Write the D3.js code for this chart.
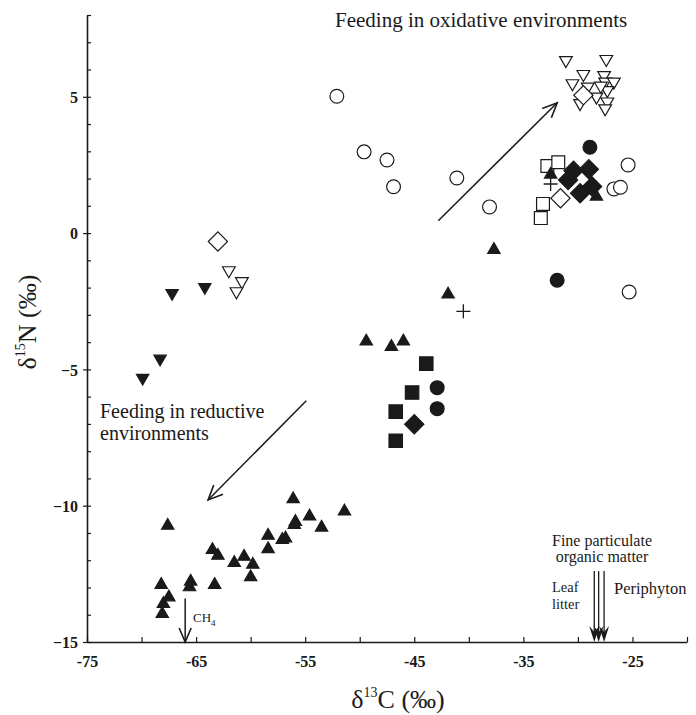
<!DOCTYPE html>
<html>
<head>
<meta charset="utf-8">
<script src="https://cdn.jsdelivr.net/npm/d3@7"></script>
<style>
  body { margin: 0; background: #fff; }
  text { font-family: "Liberation Serif", "Times New Roman", serif; fill: #1a1a1a; }
</style>
</head>
<body>
<div id="chart"></div>
<script>
// symbol series, [d13C, d15N]
var openCircle = [[-52.1, 5.02], [-49.6, 2.98], [-47.5, 2.68], [-46.9, 1.70], [-41.1, 2.02],
                  [-38.1, 0.96], [-25.4, 2.50], [-26.7, 1.62], [-26.1, 1.68], [-25.3, -2.16]];
var filledCircle = [[-28.9, 3.15], [-31.9, -1.73], [-42.9, -5.67], [-42.9, -6.44]];
var openSquare = [[-32.8, 2.46], [-31.8, 2.60], [-33.2, 1.07], [-33.4, 0.55]];
var filledSquare = [[-43.9, -4.79], [-45.2, -5.85], [-46.7, -6.55], [-46.7, -7.62]];
var openDiamond = [[-63.0, -0.31], [-29.5, 5.06], [-31.6, 1.28]];
var filledDiamond = [[-30.4, 2.29], [-29.0, 2.34], [-30.9, 1.95], [-29.8, 1.46], [-28.7, 1.71], [-45.0, -7.01]];
var filledTriangle = [[-32.5, 2.15], [-28.3, 1.34], [-37.7, -0.61], [-41.9, -2.25],
                      [-49.4, -3.97], [-47.1, -4.17], [-46.0, -3.97],
                      [-67.6, -10.73], [-68.2, -12.90], [-67.5, -13.36], [-68.0, -13.60], [-68.1, -13.97],
                      [-65.5, -12.78], [-65.6, -12.99], [-63.3, -12.90], [-63.5, -11.62], [-63.0, -11.83],
                      [-61.5, -12.10], [-60.6, -11.87], [-59.8, -12.16], [-60.0, -12.62],
                      [-58.4, -11.10], [-58.4, -11.59], [-57.1, -11.25], [-56.8, -11.20],
                      [-56.1, -9.76], [-55.9, -10.59], [-56.0, -10.70], [-54.6, -10.39], [-53.5, -10.80], [-51.4, -10.21]];
var filledTriangleDown = [[-67.2, -2.20], [-64.2, -1.98], [-68.3, -4.61], [-69.9, -5.31]];
var openTriangleDown = [[-62.0, -1.37], [-60.8, -1.77], [-61.3, -2.14],
                        [-31.1, 6.34], [-27.4, 6.38], [-29.5, 5.83], [-30.5, 5.49], [-29.1, 5.37],
                        [-27.6, 5.79], [-27.5, 5.55], [-26.7, 5.55], [-28.3, 5.00], [-27.3, 5.24],
                        [-29.8, 4.76], [-27.3, 4.82], [-27.5, 4.57], [-27.9, 5.40]];
var plusMark = [[-40.5, -2.87], [-32.5, 1.80]];

// axis ticks
var xTicks = [-75, -70, -65, -60, -55, -50, -45, -40, -35, -30, -25, -20];
var xLabels = [-75, -65, -55, -45, -35, -25];
var yTicks = d3.range(-15, 9, 1);
var yLabels = [5, 0, -5, -10, -15];

// annotation arrows [x1, y1, x2, y2]
var oxidArrow = [-42.8, 0.45, -31.9, 4.78];
var reducArrow = [-54.9, -6.15, -63.9, -9.79];
var ch4Arrow = [-66.0, -13.4, -66.0, -15];
var sourceArrows = [[-28.5, -12.4, -28.5, -15], [-28.1, -12.4, -28.1, -15], [-27.6, -12.4, -27.6, -15]];

var svgWidth = 696;
var svgHeight = 715;
var margin = { top: 15, right: 9, bottom: 73, left: 87 };
var width = svgWidth - margin.left - margin.right;
var height = svgHeight - margin.top - margin.bottom;

var svg = d3.select("#chart").append("svg")
            .attr("width", svgWidth)
            .attr("height", svgHeight);

var g = svg.append("g")
           .attr("transform", `translate(${margin.left}, ${margin.top})`);

var x = d3.scaleLinear().domain([-75, -20]).range([0, width]);
var y = d3.scaleLinear().domain([-15, 8]).range([height, 0]);

function styleTicks(sel) {
    sel.attr("font-family", null).attr("font-size", null);
    sel.selectAll(".tick text")
       .style("font-family", "'Liberation Serif', serif")
       .style("font-weight", "bold")
       .style("font-size", "16px")
       .attr("fill", "#1a1a1a");
    sel.select(".domain").attr("stroke-width", 1.6).attr("stroke", "#1a1a1a");
    sel.selectAll(".tick line").attr("stroke-width", 1.2).attr("stroke", "#1a1a1a");
}

// x axis
var xAxis = g.append("g")
             .attr("transform", `translate(0, ${height})`)
             .call(d3.axisBottom(x)
                     .tickValues(xTicks)
                     .tickSizeInner(-5)
                     .tickSizeOuter(0)
                     .tickPadding(14)
                     .tickFormat(d => xLabels.indexOf(d) >= 0 ? d : ""));
styleTicks(xAxis);

// y axis: minor ticks inward
var yAxis = g.append("g")
             .call(d3.axisLeft(y)
                     .tickValues(yTicks)
                     .tickSizeInner(-4)
                     .tickSizeOuter(0)
                     .tickFormat(""));
styleTicks(yAxis);

// y axis: labelled ticks outward
var yMajor = g.append("g")
              .call(d3.axisLeft(y)
                      .tickValues(yLabels)
                      .tickSizeInner(4)
                      .tickSizeOuter(0)
                      .tickPadding(5));
styleTicks(yMajor);
yMajor.select(".domain").remove();
yMajor.selectAll(".tick text").attr("dy", "0.36em");

// points
function drawSymbols(data, type, size, fill, rotate) {
    g.selectAll(null)
     .data(data)
     .enter()
     .append("path")
     .attr("d", d3.symbol().type(type).size(size))
     .attr("transform", d => `translate(${x(d[0])}, ${y(d[1])}) rotate(${rotate})`)
     .attr("fill", fill ? "#1a1a1a" : "#fff")
     .attr("stroke", "#1a1a1a")
     .attr("stroke-width", 1.2);
}

drawSymbols(openCircle, d3.symbolCircle, 150, false, 0);
drawSymbols(openSquare, d3.symbolSquare, 165, false, 0);
drawSymbols(openTriangleDown, d3.symbolTriangle, 70, false, 180);
drawSymbols(openDiamond, d3.symbolSquare, 185, false, 45);
drawSymbols(filledCircle, d3.symbolCircle, 150, true, 0);
drawSymbols(filledSquare, d3.symbolSquare, 180, true, 0);
drawSymbols(filledDiamond, d3.symbolSquare, 185, true, 45);
drawSymbols(filledTriangle, d3.symbolTriangle, 66, true, 0);
drawSymbols(filledTriangleDown, d3.symbolTriangle, 66, true, 180);

g.selectAll(null)
 .data(plusMark)
 .enter()
 .append("path")
 .attr("d", "M-7,0H7M0,-7V7")
 .attr("transform", d => `translate(${x(d[0])}, ${y(d[1])})`)
 .attr("stroke", "#1a1a1a")
 .attr("stroke-width", 1.3)
 .attr("fill", "none");

// open-headed arrows
function openArrow(a) {
    var x1 = x(a[0]), y1 = y(a[1]), x2 = x(a[2]), y2 = y(a[3]);
    var ang = Math.atan2(y2 - y1, x2 - x1);
    var L = 16, w = 0.42;
    g.append("line")
     .attr("x1", x1).attr("y1", y1).attr("x2", x2).attr("y2", y2)
     .attr("stroke", "#1a1a1a").attr("stroke-width", 1.5);
    g.append("path")
     .attr("d", `M${x2 - L * Math.cos(ang - w)},${y2 - L * Math.sin(ang - w)}L${x2},${y2}L${x2 - L * Math.cos(ang + w)},${y2 - L * Math.sin(ang + w)}`)
     .attr("stroke", "#1a1a1a").attr("stroke-width", 1.6).attr("fill", "none");
}
openArrow(oxidArrow);
openArrow(reducArrow);

// CH4 arrow
g.append("line")
 .attr("x1", x(ch4Arrow[0])).attr("y1", y(ch4Arrow[1]))
 .attr("x2", x(ch4Arrow[2])).attr("y2", y(ch4Arrow[3]))
 .attr("stroke", "#1a1a1a").attr("stroke-width", 1.5);
g.append("path")
 .attr("d", `M${x(ch4Arrow[2]) - 6},${y(ch4Arrow[3]) - 14}L${x(ch4Arrow[2])},${y(ch4Arrow[3])}L${x(ch4Arrow[2]) + 6},${y(ch4Arrow[3]) - 14}`)
 .attr("stroke", "#1a1a1a").attr("stroke-width", 1.6).attr("fill", "none");

// source arrows (leaf litter, FPOM, periphyton)
sourceArrows.forEach(function(a) {
    g.append("line")
     .attr("x1", x(a[0])).attr("y1", y(a[1]))
     .attr("x2", x(a[2])).attr("y2", y(a[3]) - 6)
     .attr("stroke", "#1a1a1a").attr("stroke-width", 1.3);
    g.append("path")
     .attr("d", `M${x(a[2]) - 5},${y(a[3]) - 16}L${x(a[2])},${y(a[3])}L${x(a[2]) + 5},${y(a[3]) - 16}L${x(a[2])},${y(a[3]) - 10}Z`)
     .attr("fill", "#1a1a1a");
});

// annotation text
svg.append("text").attr("x", 335).attr("y", 27).style("font-size", "21px")
   .text("Feeding in oxidative environments");
svg.append("text").attr("x", 100).attr("y", 418).style("font-size", "20px")
   .text("Feeding in reductive");
svg.append("text").attr("x", 100).attr("y", 440).style("font-size", "20px")
   .text("environments");

var ch4 = svg.append("text").attr("x", 193).attr("y", 622).style("font-size", "13px");
ch4.append("tspan").text("CH");
ch4.append("tspan").attr("dy", 4).style("font-size", "9px").text("4");

svg.append("text").attr("x", 602).attr("y", 546).attr("text-anchor", "middle").style("font-size", "16px")
   .text("Fine particulate");
svg.append("text").attr("x", 602).attr("y", 562).attr("text-anchor", "middle").style("font-size", "16px")
   .text("organic matter");
svg.append("text").attr("x", 552).attr("y", 592).style("font-size", "14.5px").text("Leaf");
svg.append("text").attr("x", 552).attr("y", 609).style("font-size", "14.5px").text("litter");
svg.append("text").attr("x", 614).attr("y", 594).style("font-size", "16.5px").text("Periphyton");

// axis titles
var xt = svg.append("text").attr("x", 398).attr("y", 708).attr("text-anchor", "middle").style("font-size", "26px");
xt.append("tspan").text("δ");
xt.append("tspan").attr("dy", -11).style("font-size", "14px").text("13");
xt.append("tspan").attr("dy", 11).text("C (‰)");

var yt = svg.append("text").attr("transform", "translate(36, 322) rotate(-90)").attr("text-anchor", "middle").style("font-size", "26px");
yt.append("tspan").text("δ");
yt.append("tspan").attr("dy", -11).style("font-size", "14px").text("15");
yt.append("tspan").attr("dy", 11).text("N (‰)");
</script>
</body>
</html>
